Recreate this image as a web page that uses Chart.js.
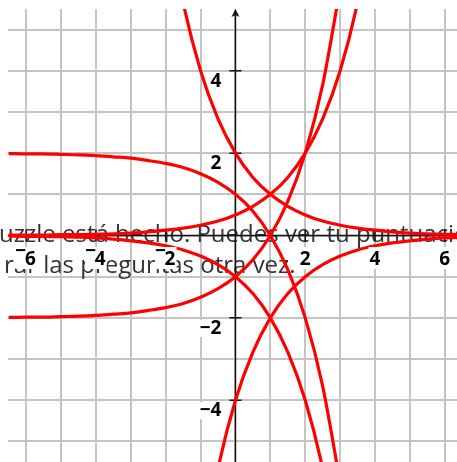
<!DOCTYPE html>
<html>
<head>
<meta charset="utf-8">
<title>Funciones exponenciales</title>
<script src="https://cdn.jsdelivr.net/npm/chart.js"></script>
<style>
  html, body { margin: 0; padding: 0; background: #fff; }
  canvas { display: block; }
</style>
</head>
<body>

<canvas id="expChart" width="457" height="462"></canvas>

<script>
const xs = [-6.5, -6, -5.5, -5, -4.5, -4, -3.5, -3, -2.5, -2, -1.5, -1, -0.5, 0,
            0.5, 1, 1.5, 2, 2.5, 3, 3.5, 4, 4.5, 5, 5.5, 6, 6.5];

// through (0,2) and (1,1), falling to the right
const curveA = [null, null, null, null, null, null, null, null, null, 8, 5.66, 4, 2.83, 2,
                1.41, 1, 0.71, 0.5, 0.35, 0.25, 0.18, 0.13, 0.09, 0.06, 0.04, 0.03, 0.02];
// through (1,1) and (2,2), rising to the right
const curveB = [0.01, 0.01, 0.01, 0.02, 0.02, 0.03, 0.04, 0.06, 0.09, 0.13, 0.18, 0.25, 0.35, 0.5,
                0.71, 1, 1.41, 2, 2.83, 4, 5.66, 8, null, null, null, null, null];
// level 2 on the left, through (0,1), (1,0), (2,-2)
const curveC = [1.99, 1.98, 1.98, 1.97, 1.96, 1.94, 1.91, 1.88, 1.82, 1.75, 1.65, 1.5, 1.29, 1,
                0.59, 0, -0.83, -2, -3.66, -6, null, null, null, null, null, null, null];
// level -2 on the left, through (0,-1), (1,0), (2,2)
const curveD = [-1.99, -1.98, -1.98, -1.97, -1.96, -1.94, -1.91, -1.88, -1.82, -1.75, -1.65, -1.5, -1.29, -1,
                -0.59, 0, 0.83, 2, 3.66, 6, null, null, null, null, null, null, null];
// through (0,-1) and (1,-2), falling to the right
const curveE = [-0.01, -0.02, -0.02, -0.03, -0.04, -0.06, -0.09, -0.13, -0.18, -0.25, -0.35, -0.5, -0.71, -1,
                -1.41, -2, -2.83, -4, -5.66, -8, null, null, null, null, null, null, null];
// through (0,-4) and (1,-2), rising to the right
const curveF = [null, null, null, null, null, null, null, null, null, null, null, -8, -5.66, -4,
                -2.83, -2, -1.41, -1, -0.71, -0.5, -0.35, -0.25, -0.18, -0.13, -0.09, -0.06, -0.04];

const xTicks = [-6, -4, -2, 2, 4, 6];
const yTicks = [-4, -2, 2, 4];

const message = ['uzzle está hecho. Puedes ver tu puntuación',
                 'rar las preguntas otra vez.'];

const curves = [curveA, curveB, curveC, curveD, curveE, curveF];

function toPoints(ys) {
    return xs.map(function(x, i) { return { x: x, y: ys[i] }; });
}

// grid lines on every whole unit inside the range
function wholeTicks(scale) {
    const ticks = [];
    for (let v = Math.ceil(scale.min); v <= Math.floor(scale.max); v++) {
        ticks.push({ value: v });
    }
    scale.ticks = ticks;
}

// axes, arrow, ticks and the overlapping message text
const axesPlugin = {
    id: 'axesPlugin',
    beforeDatasetsDraw(chart) {
        const ctx = chart.ctx;
        const a = chart.chartArea;
        const sx = chart.scales.x, sy = chart.scales.y;
        const x0 = sx.getPixelForValue(0);
        const y0 = sy.getPixelForValue(0);
        ctx.save();

        ctx.font = '24px "Open Sans"';
        ctx.fillStyle = '#333';
        ctx.textBaseline = 'alphabetic';
        ctx.textAlign = 'left';
        ctx.fillText(message[0], -1, 242);
        ctx.fillText(message[1], 4, 273);

        ctx.strokeStyle = '#111';
        ctx.lineWidth = 1.5;
        ctx.beginPath();
        ctx.moveTo(a.left, y0);
        ctx.lineTo(a.right, y0);
        ctx.moveTo(x0, a.bottom);
        ctx.lineTo(x0, a.top + 5);
        yTicks.forEach(function(v) {
            const py = sy.getPixelForValue(v);
            ctx.moveTo(x0 - 6, py);
            ctx.lineTo(x0 + 6, py);
        });
        xTicks.forEach(function(v) {
            const px = sx.getPixelForValue(v);
            ctx.moveTo(px, y0 - 6);
            ctx.lineTo(px, y0 + 6);
        });
        ctx.stroke();

        ctx.fillStyle = '#111';
        ctx.beginPath();
        ctx.moveTo(x0, a.top);
        ctx.lineTo(x0 - 4, a.top + 8);
        ctx.lineTo(x0, a.top + 6);
        ctx.lineTo(x0 + 4, a.top + 8);
        ctx.closePath();
        ctx.fill();
        ctx.restore();
    },
    afterDatasetsDraw(chart) {
        const ctx = chart.ctx;
        const sx = chart.scales.x, sy = chart.scales.y;
        const x0 = sx.getPixelForValue(0);
        ctx.save();
        ctx.font = 'bold 19px "Open Sans"';
        ctx.textBaseline = 'alphabetic';
        ctx.textAlign = 'left';

        xTicks.forEach(function(v) {
            const px = sx.getPixelForValue(v);
            const digit = String(Math.abs(v));
            const wd = ctx.measureText(digit).width;
            const wm = v < 0 ? ctx.measureText('\u2212').width * 0.8 : 0;
            const start = px - (wm + wd) / 2;
            ctx.fillStyle = '#fff';
            ctx.fillRect(start - 1, 247, wm + wd + 2, 22);
            ctx.fillStyle = '#000';
            if (v < 0) ctx.fillText('\u2212', start - 1, 257);
            ctx.fillText(digit, start + wm, 265);
        });

        ctx.textAlign = 'right';
        yTicks.forEach(function(v) {
            const py = sy.getPixelForValue(v);
            const label = (v < 0 ? '\u2212' : '') + Math.abs(v);
            const w = ctx.measureText(label).width;
            ctx.fillStyle = '#fff';
            ctx.fillRect(x0 - 15 - w, py + 2, w + 2, 17);
            ctx.fillStyle = '#000';
            ctx.fillText(label, x0 - 14, py + 16);
        });
        ctx.restore();
    }
};

document.addEventListener('DOMContentLoaded', function() {
    const ctx = document.getElementById('expChart').getContext('2d');

    new Chart(ctx, {
        type: 'line',
        data: {
            datasets: curves.map(function(ys) {
                return {
                    data: toPoints(ys),
                    borderColor: '#ff0000',
                    borderWidth: 3.2,
                    pointRadius: 0,
                    fill: false,
                    cubicInterpolationMode: 'monotone',
                    capBezierPoints: false,
                    clip: 0
                };
            })
        },
        options: {
            responsive: false,
            animation: false,
            layout: { padding: { left: 8, top: 9, right: 0, bottom: 0 } },
            scales: {
                x: {
                    type: 'linear',
                    min: -6.52,
                    max: 6.35,
                    afterBuildTicks: wholeTicks,
                    border: { display: false },
                    grid: { color: '#c4c4c4', lineWidth: 2, drawTicks: false },
                    ticks: { display: false }
                },
                y: {
                    type: 'linear',
                    min: -5.5,
                    max: 5.5,
                    afterBuildTicks: wholeTicks,
                    border: { display: false },
                    grid: { color: '#c4c4c4', lineWidth: 2, drawTicks: false },
                    ticks: { display: false }
                }
            },
            plugins: {
                legend: { display: false },
                tooltip: { enabled: false }
            }
        },
        plugins: [axesPlugin]
    });
});
</script>

</body>
</html>
